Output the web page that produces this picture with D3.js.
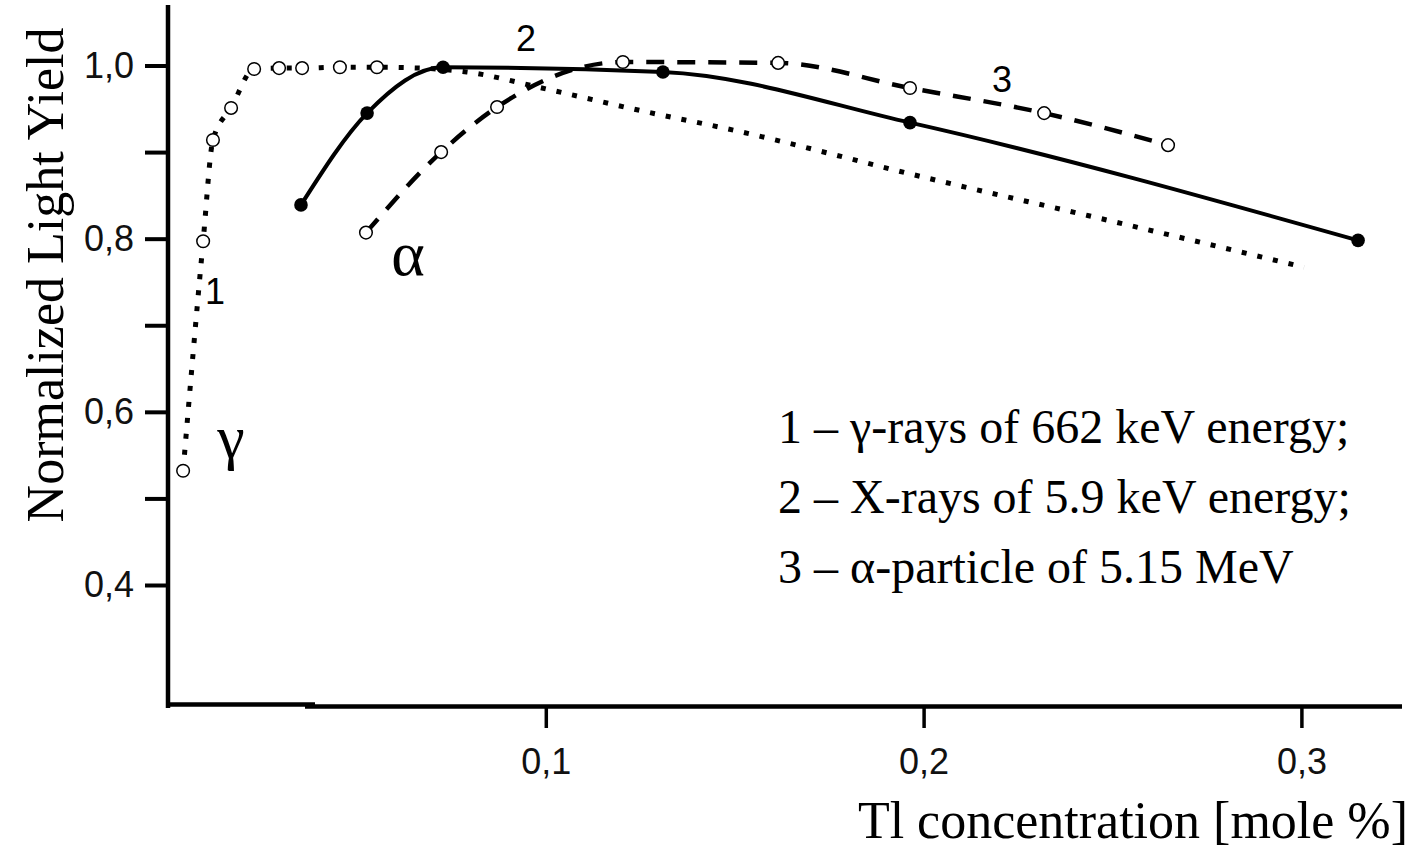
<!DOCTYPE html>
<html>
<head>
<meta charset="utf-8">
<script src="https://cdn.jsdelivr.net/npm/d3@7"></script>
<style>
  html, body { margin: 0; padding: 0; background: #fff; }
  svg { display: block; }
</style>
</head>
<body>
<svg id="chart" width="1412" height="858"></svg>
<script>
// Tl concentration [mole %] and normalized light yield for the three excitations

// 1 – gamma rays (662 keV): measured points (open circles) and the dotted fit curve
const gammaX = [0.0040, 0.0093, 0.0119, 0.0167, 0.0228, 0.0294, 0.0355, 0.0455, 0.0553];
const gammaY = [0.532, 0.797, 0.914, 0.951, 0.996, 0.997, 0.997, 0.998, 0.998];
// continuation of the dotted curve past the last measured point
const gammaTailX = [0.0667, 0.0791, 0.100, 0.125, 0.150, 0.200, 0.250, 0.3007];
const gammaTailY = [0.997, 0.9925, 0.973, 0.948, 0.925, 0.871, 0.820, 0.767];

// 2 – X-rays (5.9 keV): filled dots, solid curve
const xrayX = [0.0352, 0.0527, 0.0728, 0.1310, 0.1964, 0.3150];
const xrayY = [0.839, 0.945, 0.998, 0.9925, 0.934, 0.798];

// 3 – alpha particles (5.15 MeV): open circles, dashed curve
const alphaX = [0.0524, 0.0723, 0.0871, 0.1204, 0.1615, 0.1964, 0.2319, 0.2647];
const alphaY = [0.807, 0.900, 0.952, 1.004, 1.003, 0.974, 0.945, 0.908];

// axis ticks
const xTicks = [0.1, 0.2, 0.3];
const xTickLabels = ["0,1", "0,2", "0,3"];
const yTicks = [0.4, 0.5, 0.6, 0.7, 0.8, 0.9, 1.0];
const yTickLabels = {"0.4": "0,4", "0.6": "0,6", "0.8": "0,8", "1": "1,0"};

// legend and curve annotations
const legendLines = [
  "1 – γ-rays of 662 keV energy;",
  "2 – X-rays of 5.9 keV energy;",
  "3 – α-particle of 5.15 MeV"
];

const svg = d3.select("#chart");
const SANS = "'Liberation Sans', Arial, sans-serif";
const SERIF = "'Liberation Serif', 'Times New Roman', serif";

const x = d3.scaleLinear().domain([0, 0.3]).range([168, 1301.4]);
const y = d3.scaleLinear().domain([0.4, 1.0]).range([585, 65.5]);

const xAxisY = 706;
const yAxisX = 168;

// ---- axes ----
const yAxis = d3.axisLeft(y)
  .tickValues(yTicks)
  .tickSize(23)
  .tickSizeOuter(0)
  .tickPadding(11)
  .tickFormat(d => yTickLabels[String(+d.toFixed(1))] || "");

const gy = svg.append("g")
  .attr("transform", `translate(${yAxisX},0)`)
  .call(yAxis);
gy.select(".domain").remove();
gy.selectAll(".tick line").attr("stroke", "#000").attr("stroke-width", 4);
gy.selectAll(".tick text")
  .attr("font-family", SANS).attr("font-size", 36).attr("fill", "#111");

const xAxis = d3.axisBottom(x)
  .tickValues(xTicks)
  .tickSize(22)
  .tickSizeOuter(0)
  .tickPadding(20)
  .tickFormat((d, i) => xTickLabels[i]);

const gx = svg.append("g")
  .attr("transform", `translate(0,${xAxisY})`)
  .call(xAxis);
gx.select(".domain").remove();
gx.selectAll(".tick line").attr("stroke", "#000").attr("stroke-width", 3.5);
gx.selectAll(".tick text")
  .attr("font-family", SANS).attr("font-size", 36).attr("fill", "#111");

// axis lines (the bottom one has a small step near the origin)
svg.append("line")
  .attr("x1", yAxisX).attr("x2", yAxisX)
  .attr("y1", 5).attr("y2", xAxisY + 2)
  .attr("stroke", "#000").attr("stroke-width", 4.5);
svg.append("line")
  .attr("x1", yAxisX - 2).attr("x2", 315)
  .attr("y1", xAxisY - 1.5).attr("y2", xAxisY - 1.5)
  .attr("stroke", "#000").attr("stroke-width", 4.5);
svg.append("line")
  .attr("x1", 305).attr("x2", 1402)
  .attr("y1", xAxisY + 0.5).attr("y2", xAxisY + 0.5)
  .attr("stroke", "#000").attr("stroke-width", 4.5);

// ---- curves ----
const zip = (xs, ys) => xs.map((v, i) => [v, ys[i]]);
const line = d3.line()
  .x(d => x(d[0]))
  .y(d => y(d[1]))
  .curve(d3.curveMonotoneX);

const gammaPts = zip(gammaX, gammaY);
const gammaCurve = gammaPts.concat(zip(gammaTailX, gammaTailY));
const xrayPts = zip(xrayX, xrayY);
const alphaPts = zip(alphaX, alphaY);

svg.append("path")
  .attr("d", line(alphaPts))
  .attr("fill", "none").attr("stroke", "#000")
  .attr("stroke-width", 4.5).attr("stroke-dasharray", "18,13");

svg.append("path")
  .attr("d", line(xrayPts))
  .attr("fill", "none").attr("stroke", "#000")
  .attr("stroke-width", 4);

svg.append("path")
  .attr("d", line(gammaCurve))
  .attr("fill", "none").attr("stroke", "#000")
  .attr("stroke-width", 5).attr("stroke-dasharray", "5,11");

// ---- markers ----
function openMarkers(pts) {
  svg.append("g").selectAll("circle").data(pts).join("circle")
    .attr("cx", d => x(d[0])).attr("cy", d => y(d[1]))
    .attr("r", 6.3)
    .attr("fill", "#fff").attr("stroke", "#000").attr("stroke-width", 1.5);
}
openMarkers(gammaPts);
openMarkers(alphaPts);

svg.append("g").selectAll("circle").data(xrayPts).join("circle")
  .attr("cx", d => x(d[0])).attr("cy", d => y(d[1]))
  .attr("r", 6.8)
  .attr("fill", "#000");

// ---- curve annotations ----
const notes = [
  {t: "2", x: 526, y: 51, f: SANS, s: 36, a: "middle"},
  {t: "3", x: 1002, y: 92, f: SANS, s: 36, a: "middle"},
  {t: "1", x: 215, y: 304, f: SANS, s: 36, a: "middle"},
  {t: "α", x: 408, y: 275, f: SERIF, s: 64, a: "middle"},
  {t: "γ", x: 231, y: 458, f: SERIF, s: 62, a: "middle"}
];
svg.append("g").selectAll("text").data(notes).join("text")
  .attr("x", d => d.x).attr("y", d => d.y)
  .attr("font-family", d => d.f).attr("font-size", d => d.s)
  .attr("text-anchor", d => d.a)
  .attr("fill", "#000")
  .text(d => d.t);

// ---- legend ----
svg.append("g").selectAll("text").data(legendLines).join("text")
  .attr("x", 778)
  .attr("y", (d, i) => 443 + i * 70)
  .attr("font-family", SERIF).attr("font-size", 48)
  .attr("fill", "#000")
  .text(d => d);

// ---- axis titles ----
svg.append("text")
  .attr("transform", "translate(63,275) rotate(-90)")
  .attr("text-anchor", "middle")
  .attr("font-family", SERIF).attr("font-size", 52)
  .attr("fill", "#000")
  .text("Normalized Light Yield");

svg.append("text")
  .attr("x", 1408).attr("y", 838)
  .attr("text-anchor", "end")
  .attr("font-family", SERIF).attr("font-size", 52)
  .attr("fill", "#000")
  .text("Tl concentration [mole %]");
</script>
</body>
</html>
